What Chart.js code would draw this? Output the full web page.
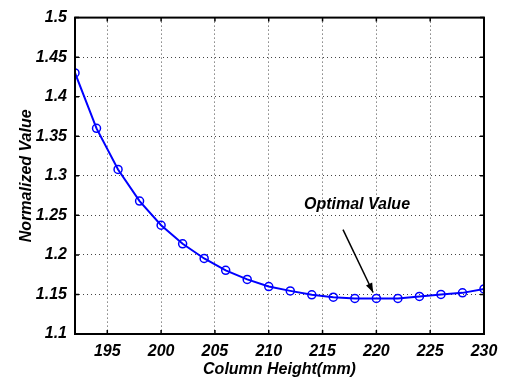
<!DOCTYPE html>
<html>
<head>
<meta charset="utf-8">
<script src="https://cdn.jsdelivr.net/npm/chart.js@4.4.1/dist/chart.umd.min.js"></script>
<style>
  html, body { margin: 0; padding: 0; background: #fff; }
  #wrap { width: 506px; height: 379px; }
</style>
</head>
<body>
<div id="wrap"><canvas id="c" width="506" height="379"></canvas></div>
<script>
const heights = [192, 194, 196, 198, 200, 202, 204, 206, 208, 210, 212, 214, 216, 218, 220, 222, 224, 226, 228, 230];
const values  = [1.430, 1.360, 1.308, 1.268, 1.2375, 1.214, 1.1955, 1.1805, 1.169, 1.160, 1.1545, 1.1495, 1.1465, 1.145, 1.145, 1.145, 1.1475, 1.150, 1.152, 1.157];
const xTicks = [195, 200, 205, 210, 215, 220, 225, 230];
const yTicks = [1.1, 1.15, 1.2, 1.25, 1.3, 1.35, 1.4, 1.45, 1.5];
const note = { text: "Optimal Value", x: 218.2, y: 1.263, fromX: 216.9, fromY: 1.232, toX: 219.7, toY: 1.1525 };

const FONT = "'Liberation Sans', Arial, sans-serif";
const BLUE = "#0000ff";

// box, inward ticks on all four sides, and the arrow note
const framePlugin = {
  id: "frame",
  afterDatasetsDraw(chart) {
    const { ctx, chartArea: a, scales: { x, y } } = chart;
    ctx.save();
    ctx.strokeStyle = "#000";
    ctx.lineWidth = 1.5;
    ctx.beginPath();
    xTicks.forEach(v => {
      const px = x.getPixelForValue(v);
      ctx.moveTo(px, a.bottom); ctx.lineTo(px, a.bottom - 4);
      ctx.moveTo(px, a.top); ctx.lineTo(px, a.top + 4);
    });
    yTicks.forEach(v => {
      const py = y.getPixelForValue(v);
      ctx.moveTo(a.left, py); ctx.lineTo(a.left + 4, py);
      ctx.moveTo(a.right, py); ctx.lineTo(a.right - 4, py);
    });
    ctx.stroke();
    ctx.lineWidth = 2;
    ctx.strokeRect(a.left, a.top, a.right - a.left, a.bottom - a.top);

    // note
    const x0 = x.getPixelForValue(note.fromX), y0 = y.getPixelForValue(note.fromY);
    const x1 = x.getPixelForValue(note.toX), y1 = y.getPixelForValue(note.toY);
    ctx.lineWidth = 1.5;
    ctx.beginPath(); ctx.moveTo(x0, y0); ctx.lineTo(x1, y1); ctx.stroke();
    const ang = Math.atan2(y1 - y0, x1 - x0);
    ctx.fillStyle = "#000";
    ctx.beginPath();
    ctx.moveTo(x1, y1);
    ctx.lineTo(x1 - 10 * Math.cos(ang - 0.35), y1 - 10 * Math.sin(ang - 0.35));
    ctx.lineTo(x1 - 10 * Math.cos(ang + 0.35), y1 - 10 * Math.sin(ang + 0.35));
    ctx.closePath(); ctx.fill();
    ctx.font = "italic bold 16px " + FONT;
    ctx.textAlign = "center"; ctx.textBaseline = "middle";
    ctx.fillText(note.text, x.getPixelForValue(note.x), y.getPixelForValue(note.y));
    ctx.restore();
  }
};

new Chart(document.getElementById("c"), {
  type: "line",
  data: {
    datasets: [{
      data: heights.map((h, i) => ({ x: h, y: values[i] })),
      borderColor: BLUE,
      borderWidth: 2,
      pointStyle: "circle",
      pointRadius: 4,
      pointBorderWidth: 1.5,
      pointBorderColor: BLUE,
      pointBackgroundColor: "rgba(0,0,0,0)",
      tension: 0
    }]
  },
  options: {
    responsive: false,
    animation: false,
    devicePixelRatio: 1,
    layout: { padding: { left: 0, right: 22, top: 13, bottom: 0 } },
    plugins: { legend: { display: false }, tooltip: { enabled: false } },
    scales: {
      x: {
        type: "linear",
        min: 192, max: 230,
        afterBuildTicks: s => { s.ticks = xTicks.map(v => ({ value: v })); },
        afterFit: s => { s.height = 45; },
        border: { display: false, dash: [1, 3] },
        grid: { color: "#444", drawTicks: false },
        ticks: { color: "#000", padding: 8, font: { family: FONT, size: 16, weight: "bold", style: "italic" } },
        title: { display: true, text: "Column Height(mm)", color: "#000", padding: { top: 2, bottom: 0 },
                 font: { family: FONT, size: 16, weight: "bold", style: "italic" } }
      },
      y: {
        min: 1.1, max: 1.5,
        afterBuildTicks: s => { s.ticks = yTicks.map(v => ({ value: v })); },
        afterFit: s => { s.width = 75; },
        border: { display: false, dash: [1, 3] },
        grid: { color: "#444", drawTicks: false },
        ticks: { color: "#000", padding: 8, callback: v => String(+v.toFixed(2)),
                 font: { family: FONT, size: 16, weight: "bold", style: "italic" } },
        title: { display: true, text: "Normalized Value", color: "#000", padding: { top: 17, bottom: 0 },
                 font: { family: FONT, size: 16, weight: "bold", style: "italic" } }
      }
    }
  },
  plugins: [framePlugin]
});
</script>
</body>
</html>
